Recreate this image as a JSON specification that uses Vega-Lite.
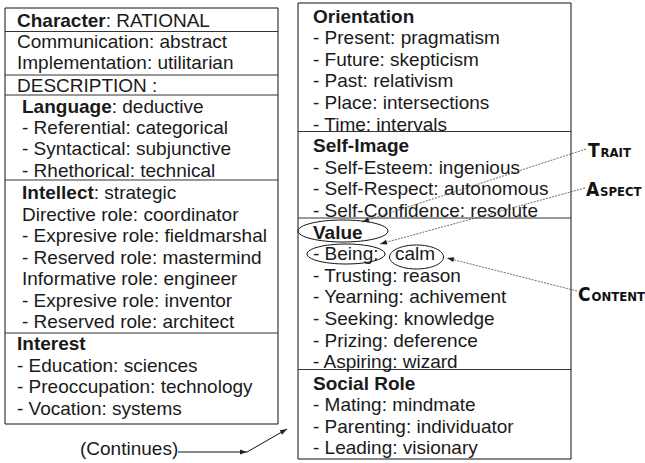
{
  "$schema": "https://vega.github.io/schema/vega-lite/v6.json",
  "width": 645,
  "height": 463,
  "padding": 0,
  "autosize": {"type": "fit", "contains": "padding"},
  "background": "white",
  "config": {"view": {"stroke": null}},
  "datasets": {
    "boxes": [
      {"x": 5, "y": 8, "x2": 278, "y2": 424},
      {"x": 298, "y": 3, "x2": 571, "y2": 459}
    ],
    "dividers": [
      {"x": 5, "x2": 278, "y": 31.5, "y2": 31.5},
      {"x": 5, "x2": 278, "y": 75, "y2": 75},
      {"x": 5, "x2": 278, "y": 95, "y2": 95},
      {"x": 5, "x2": 278, "y": 180, "y2": 180},
      {"x": 5, "x2": 278, "y": 333, "y2": 333},
      {"x": 298, "x2": 571, "y": 131.5, "y2": 131.5},
      {"x": 298, "x2": 571, "y": 218, "y2": 218},
      {"x": 298, "x2": 571, "y": 369.5, "y2": 369.5}
    ],
    "bold": [
      {"x": 17, "y": 27, "t": "Character"},
      {"x": 22, "y": 112.5, "t": "Language"},
      {"x": 22, "y": 199, "t": "Intellect"},
      {"x": 17, "y": 350, "t": "Interest"},
      {"x": 313, "y": 22.5, "t": "Orientation"},
      {"x": 313, "y": 152, "t": "Self-Image"},
      {"x": 313, "y": 238.5, "t": "Value"},
      {"x": 313, "y": 389.5, "t": "Social Role"}
    ],
    "plain": [
      {"x": 105.7, "y": 27, "t": ": RATIONAL"},
      {"x": 17, "y": 48, "t": "Communication: abstract"},
      {"x": 17, "y": 69, "t": "Implementation: utilitarian"},
      {"x": 17, "y": 91.5, "t": "DESCRIPTION :"},
      {"x": 111.7, "y": 112.5, "t": ": deductive"},
      {"x": 22, "y": 133.5, "t": "- Referential: categorical"},
      {"x": 22, "y": 155, "t": "- Syntactical: subjunctive"},
      {"x": 22, "y": 176.5, "t": "- Rhethorical: technical"},
      {"x": 93.8, "y": 199, "t": ": strategic"},
      {"x": 22, "y": 220.5, "t": "Directive role: coordinator"},
      {"x": 22, "y": 242, "t": "- Expresive role: fieldmarshal"},
      {"x": 22, "y": 263.5, "t": "- Reserved role: mastermind"},
      {"x": 22, "y": 285, "t": "Informative role: engineer"},
      {"x": 22, "y": 306.5, "t": "- Expresive role: inventor"},
      {"x": 22, "y": 328, "t": "- Reserved role: architect"},
      {"x": 17, "y": 371.5, "t": "- Education: sciences"},
      {"x": 17, "y": 393, "t": "- Preoccupation: technology"},
      {"x": 17, "y": 414.5, "t": "- Vocation: systems"},
      {"x": 80, "y": 455, "t": "(Continues)"},
      {"x": 313, "y": 44, "t": "- Present: pragmatism"},
      {"x": 313, "y": 65.5, "t": "- Future: skepticism"},
      {"x": 313, "y": 87, "t": "- Past: relativism"},
      {"x": 313, "y": 109, "t": "- Place: intersections"},
      {"x": 313, "y": 130.5, "t": "- Time: intervals"},
      {"x": 313, "y": 173.5, "t": "- Self-Esteem: ingenious"},
      {"x": 313, "y": 195, "t": "- Self-Respect: autonomous"},
      {"x": 313, "y": 217, "t": "- Self-Confidence: resolute"},
      {"x": 313, "y": 260, "t": "- Being:"},
      {"x": 395, "y": 260, "t": "calm"},
      {"x": 313, "y": 281.5, "t": "- Trusting: reason"},
      {"x": 313, "y": 303, "t": "- Yearning: achivement"},
      {"x": 313, "y": 325, "t": "- Seeking: knowledge"},
      {"x": 313, "y": 346.5, "t": "- Prizing: deference"},
      {"x": 313, "y": 368, "t": "- Aspiring: wizard"},
      {"x": 313, "y": 411, "t": "- Mating: mindmate"},
      {"x": 313, "y": 432.5, "t": "- Parenting: individuator"},
      {"x": 313, "y": 454, "t": "- Leading: visionary"}
    ],
    "ellipses": [
      {"x": 343, "y": 231, "name": "Value"},
      {"x": 346, "y": 254, "name": "Being"},
      {"x": 416.5, "y": 257, "name": "calm"}
    ],
    "pointers": [
      {"x": 586, "y": 149, "x2": 362, "y2": 222},
      {"x": 585, "y": 188, "x2": 380, "y2": 244},
      {"x": 577, "y": 291, "x2": 447, "y2": 258}
    ],
    "continues": [
      {"x": 178, "y": 452, "x2": 247, "y2": 452},
      {"x": 247, "y": 452, "x2": 287, "y2": 429}
    ],
    "heads": [
      {"x": 362, "y": 222, "angle": 252},
      {"x": 380, "y": 244, "angle": 255},
      {"x": 447, "y": 258, "angle": 284},
      {"x": 247, "y": 452, "angle": 90},
      {"x": 287, "y": 429, "angle": 60}
    ],
    "capsBig": [
      {"x": 588, "y": 157, "t": "T"},
      {"x": 586, "y": 196, "t": "A"},
      {"x": 578, "y": 301, "t": "C"}
    ],
    "capsSmall": [
      {"x": 600.5, "y": 157, "t": "RAIT"},
      {"x": 600, "y": 196, "t": "SPECT"},
      {"x": 591.5, "y": 301, "t": "ONTENT"}
    ]
  },
  "encoding": {
    "x": {"field": "x", "type": "quantitative", "scale": {"domain": [0, 645], "nice": false, "zero": false}, "axis": null},
    "y": {"field": "y", "type": "quantitative", "scale": {"domain": [0, 463], "nice": false, "zero": false, "reverse": true}, "axis": null}
  },
  "layer": [
    {
      "data": {"name": "boxes"},
      "mark": {"type": "rect", "fill": "transparent", "stroke": "#111111", "strokeWidth": 1},
      "encoding": {"x2": {"field": "x2"}, "y2": {"field": "y2"}}
    },
    {
      "data": {"name": "dividers"},
      "mark": {"type": "rule", "color": "#333333", "strokeWidth": 1},
      "encoding": {"x2": {"field": "x2"}, "y2": {"field": "y2"}}
    },
    {
      "data": {"name": "bold"},
      "mark": {"type": "text", "align": "left", "baseline": "alphabetic", "font": "Liberation Sans, Arial, sans-serif", "fontSize": 19, "fontWeight": "bold", "fill": "#1a1a1a"},
      "encoding": {"text": {"field": "t"}}
    },
    {
      "data": {"name": "plain"},
      "mark": {"type": "text", "align": "left", "baseline": "alphabetic", "font": "Liberation Sans, Arial, sans-serif", "fontSize": 19, "fill": "#1a1a1a"},
      "encoding": {"text": {"field": "t"}}
    },
    {
      "data": {"name": "ellipses"},
      "mark": {"type": "point", "filled": false, "size": 4, "stroke": "#111111", "strokeWidth": 1, "opacity": 1},
      "encoding": {
        "shape": {
          "field": "name", "type": "nominal", "legend": null,
          "scale": {
            "domain": ["Value", "Being", "calm"],
            "range": [
              "M45,0C45,6.08 24.85,11 0,11C-24.85,11 -45,6.08 -45,0C-45,-6.08 -24.85,-11 0,-11C24.85,-11 45,-6.08 45,0Z",
              "M39,0C39,5.52 21.54,10 0,10C-21.54,10 -39,5.52 -39,0C-39,-5.52 -21.54,-10 0,-10C21.54,-10 39,-5.52 39,0Z",
              "M27,0C27,6.63 14.91,12 0,12C-14.91,12 -27,6.63 -27,0C-27,-6.63 -14.91,-12 0,-12C14.91,-12 27,-6.63 27,0Z"
            ]
          }
        }
      }
    },
    {
      "data": {"name": "pointers"},
      "mark": {"type": "rule", "color": "#444444", "strokeWidth": 0.8, "strokeDash": [2, 1.2]},
      "encoding": {"x2": {"field": "x2"}, "y2": {"field": "y2"}}
    },
    {
      "data": {"name": "continues"},
      "mark": {"type": "rule", "color": "#111111", "strokeWidth": 1},
      "encoding": {"x2": {"field": "x2"}, "y2": {"field": "y2"}}
    },
    {
      "data": {"name": "heads"},
      "mark": {"type": "point", "filled": true, "size": 4, "shape": "M0,0L-2.5,7L2.5,7Z", "color": "#222222", "opacity": 1, "strokeWidth": 0},
      "encoding": {"angle": {"field": "angle", "type": "quantitative", "scale": null}}
    },
    {
      "data": {"name": "capsBig"},
      "mark": {"type": "text", "align": "left", "baseline": "alphabetic", "font": "DejaVu Sans Condensed, sans-serif", "fontSize": 19, "fontWeight": "bold", "fill": "#111111"},
      "encoding": {"text": {"field": "t"}}
    },
    {
      "data": {"name": "capsSmall"},
      "mark": {"type": "text", "align": "left", "baseline": "alphabetic", "font": "DejaVu Sans Condensed, sans-serif", "fontSize": 13, "fontWeight": "bold", "fill": "#111111"},
      "encoding": {"text": {"field": "t"}}
    }
  ]
}
